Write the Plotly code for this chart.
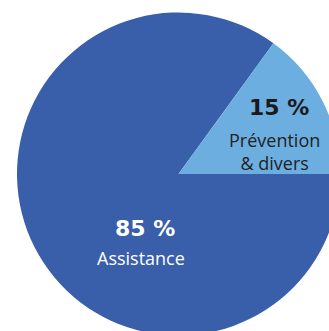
import plotly.graph_objects as go

labels = ["Assistance", "Prévention & divers"]
values = [85, 15]
colors = ["#395EAA", "#6CAEE0"]
pct_labels = ["85 %", "15 %"]
sub_labels = ["Assistance", "Prévention<br>& divers"]

W, H = 340, 336

def px(x, y):
    return x / W, 1 - y / H

fig = go.Figure(go.Pie(
    labels=labels, values=values, sort=False, direction="clockwise",
    rotation=90, textinfo="none", hoverinfo="none",
    marker=dict(colors=colors, line=dict(width=0)),
    domain=dict(x=[17 / W, 1], y=[0.5 / H, 323.5 / H]),
    showlegend=False,
))

ann_pos = [((144.5, 228), (141, 258)), ((279, 107.5), (274, 151))]
num_colors = ["#ffffff", "#1a1a1a"]
sub_colors = ["#ffffff", "#222222"]
anns = []
for i in range(2):
    (nx, ny), (sx, sy) = ann_pos[i]
    ax, ay = px(nx, ny)
    anns.append(dict(x=ax, y=ay, xref="paper", yref="paper", xanchor="center", yanchor="middle",
                     text="<b>" + pct_labels[i] + "</b>",
                     showarrow=False, font=dict(family="DejaVu Sans", size=22, color=num_colors[i])))
    bx, by = px(sx, sy)
    anns.append(dict(x=bx, y=by, xref="paper", yref="paper", xanchor="center", yanchor="middle",
                     text=sub_labels[i],
                     showarrow=False, font=dict(family="Open Sans", size=18, color=sub_colors[i])))

fig.update_layout(width=W, height=H, margin=dict(l=0, r=0, t=0, b=0),
                  paper_bgcolor="white", plot_bgcolor="white", annotations=anns)

fig.write_html("out.html", post_script="document.body.style.overflow='hidden';document.body.style.margin='0';")
